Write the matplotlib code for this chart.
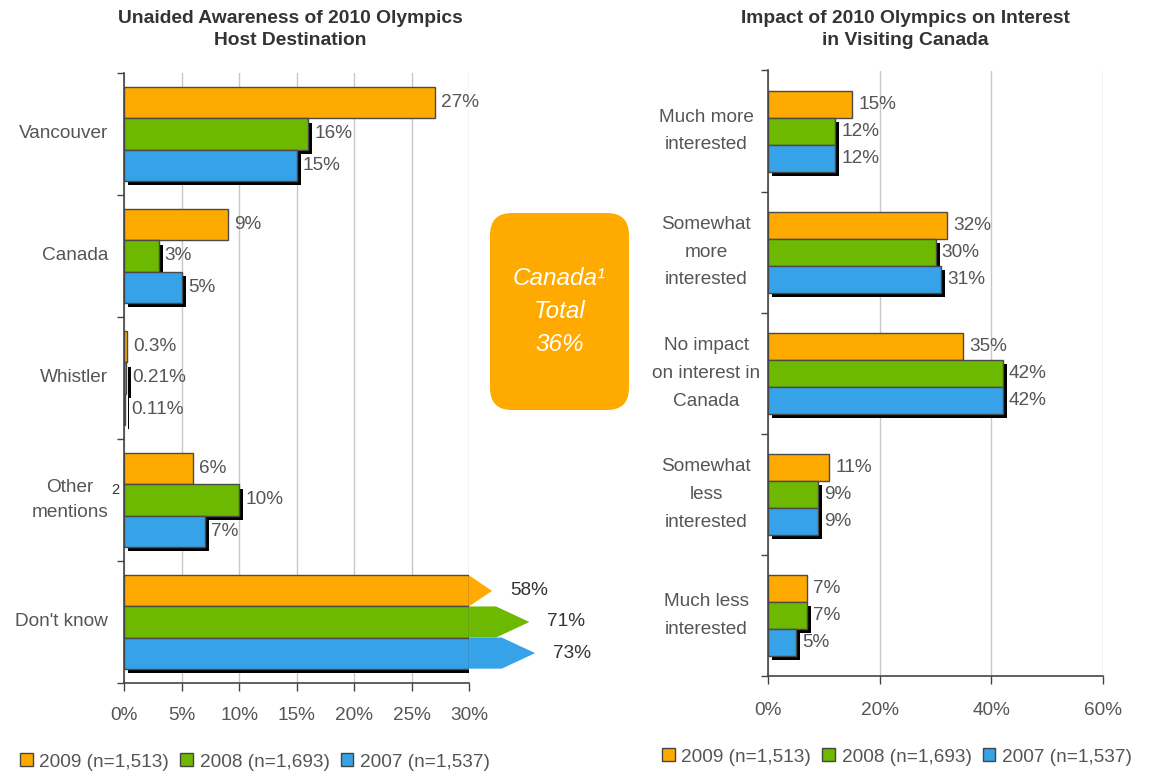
import matplotlib
matplotlib.use("Agg")
import matplotlib.pyplot as plt
import matplotlib.patheffects as pe
import matplotlib.transforms as mtransforms
from matplotlib.patches import Polygon, FancyBboxPatch, Patch
import numpy as np

# ---------------- data ----------------
left_categories = ["Vancouver", "Canada", "Whistler", "Other\nmentions", "Don't know"]
left_2009 = [27, 9, 0.3, 6, 58]
left_2008 = [16, 3, 0.21, 10, 71]
left_2007 = [15, 5, 0.11, 7, 73]
left_xticks = [0, 5, 10, 15, 20, 25, 30]

right_categories = ["Much more\ninterested", "Somewhat\nmore\ninterested",
                    "No impact\non interest in\nCanada", "Somewhat\nless\ninterested",
                    "Much less\ninterested"]
right_2009 = [15, 32, 35, 11, 7]
right_2008 = [12, 30, 42, 9, 7]
right_2007 = [12, 31, 42, 9, 5]
right_xticks = [0, 20, 40, 60]

series_names = ["2009 (n=1,513)", "2008 (n=1,693)", "2007 (n=1,537)"]
colors = ["#FFAA00", "#6DB800", "#36A2E8"]

left_title = "Unaided Awareness of 2010 Olympics\nHost Destination"
right_title = "Impact of 2010 Olympics on Interest\nin Visiting Canada"
canada_total_text = "Canada\u00b9\nTotal\n36%"

# ---------------- style ----------------
plt.rcParams["font.family"] = ["Liberation Sans", "DejaVu Sans"]
TXT = "#555555"
AX = "#444444"
FS = 13.7

fig = plt.figure(figsize=(11.5, 7.77), dpi=100)
W, H = 1150, 777


def fig_axes(x0, x1, ytop, ybot):
    return fig.add_axes([x0 / W, 1 - ybot / H, (x1 - x0) / W, (ybot - ytop) / H])


shadow = [pe.SimplePatchShadow(offset=(3, -3), shadow_rgbFace="black", alpha=1.0), pe.Normal()]


def draw(ax, cats, series, xmax, xticks, bar_h, label_x, label_ha, linesp, tick_pad):
    n = len(cats)
    y = np.arange(n)
    ax.set_xlim(0, xmax)
    ax.set_ylim(n - 0.5, -0.5)
    for k, (vals, col) in enumerate(zip(series, colors)):
        pos = y + (k - 1) * bar_h
        widths = np.minimum(vals, xmax)
        bars = ax.barh(pos, widths, height=bar_h, color=col, edgecolor="#4a4a4a",
                       linewidth=1, zorder=3)
        if k > 0:
            for b in bars:
                b.set_path_effects(shadow)
        for v, p in zip(vals, pos):
            if v > xmax:
                # arrow continuing past the axis end
                tip = xmax + (v - 50) * 0.25
                neck = max(xmax, tip - 2.9)
                poly = Polygon([[xmax, p - bar_h / 2], [neck, p - bar_h / 2], [tip, p],
                                [neck, p + bar_h / 2], [xmax, p + bar_h / 2]],
                               closed=True, facecolor=col, edgecolor="none",
                               clip_on=False, zorder=4)
                ax.add_patch(poly)
                ax.annotate(f"{v:g}%", (tip, p), xytext=(13, 0), textcoords="offset points",
                            va="center", ha="left", fontsize=FS, color="#333333",
                            annotation_clip=False)
            else:
                ax.annotate(f"{v:g}%", (v, p), xytext=(4.5, 0), textcoords="offset points",
                            va="center", ha="left", fontsize=FS, color=TXT, zorder=5)
    trans = mtransforms.blended_transform_factory(ax.transAxes, ax.transData)
    for c, yy in zip(cats, y):
        ax.text(label_x, yy, c, transform=trans, ha=label_ha, va="center",
                multialignment="center", fontsize=FS, color=TXT, linespacing=linesp)
    ax.set_xticks(xticks)
    ax.set_xticklabels([f"{t}%" for t in xticks])
    ax.set_yticks(np.arange(n + 1) - 0.5)
    ax.set_yticklabels([])
    ax.tick_params(axis="x", direction="out", length=6, width=1, color=AX,
                   labelsize=FS, labelcolor=TXT, pad=tick_pad)
    ax.tick_params(axis="y", direction="out", length=5, width=1, color=AX)
    for s in ["top", "right"]:
        ax.spines[s].set_visible(False)
    for s in ["left", "bottom"]:
        ax.spines[s].set_color(AX)
        ax.spines[s].set_linewidth(1.2)
        ax.spines[s].set_zorder(6)
    ax.set_axisbelow(True)
    ax.xaxis.grid(True, color="#c8c8c8", linewidth=1)
    ax.yaxis.grid(False)


axL = fig_axes(124, 469, 73, 683)
draw(axL, left_categories, [left_2009, left_2008, left_2007], 30, left_xticks, 0.255,
     -0.046, "right", 1.63, 11.5)
fig.text(111 / W, 1 - 490 / H, "2", fontsize=10.5, color="#333333", ha="left", va="center")

axR = fig_axes(768, 1103, 70.5, 676)
draw(axR, right_categories, [right_2009, right_2008, right_2007], 60, right_xticks, 0.223,
     -0.185, "center", 1.83, 13)

# titles
fig.text(290 / W, 1 - 29.5 / H, left_title, ha="center", va="center", fontsize=13.9,
         fontweight="bold", color="#333333", linespacing=1.35)
fig.text(905 / W, 1 - 29.5 / H, right_title, ha="center", va="center", fontsize=13.9,
         fontweight="bold", color="#333333", linespacing=1.35)

# orange callout box
axB = fig_axes(490, 629, 213, 410)
axB.set_xlim(0, 139)
axB.set_ylim(0, 197)
axB.axis("off")
axB.add_patch(FancyBboxPatch((0, 0), 139, 197, boxstyle="round,pad=0,rounding_size=22",
                             facecolor="#FFAA00", edgecolor="none"))
axB.text(69.5, 98.5, canada_total_text, ha="center", va="center", fontsize=17.5,
         fontstyle="italic", color="white", linespacing=1.55)

# legends
handles = [Patch(facecolor=c, edgecolor="#444444", linewidth=1) for c in colors]
for cx, cy in [(255, 762), (897, 757)]:
    leg = fig.legend(handles, series_names, loc="center", bbox_to_anchor=(cx / W, 1 - cy / H),
                     ncol=3, frameon=False, fontsize=FS, handlelength=0.65, handleheight=0.65,
                     handletextpad=0.35, columnspacing=0.6, borderaxespad=0)
    for t in leg.get_texts():
        t.set_color(TXT)

fig.savefig("out.png", dpi=100)
